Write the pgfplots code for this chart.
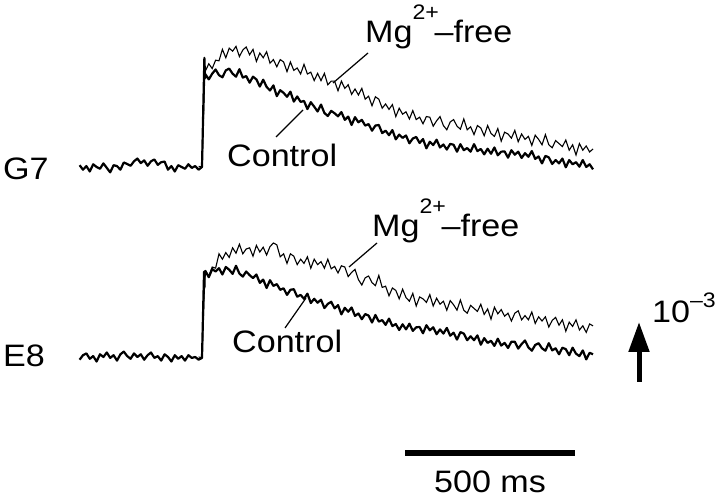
\documentclass[border=0pt]{standalone}
\usepackage{pgfplots}
\usepackage{pgfplotstable}
\pgfplotsset{compat=1.18}
\usetikzlibrary{arrows.meta}
\usepackage{fontspec}
\setmainfont{Liberation Sans}[FakeStretch=1.1]
\newcommand{\lab}{\fontsize{31}{31}\selectfont}
\newcommand{\mglab}{Mg\rlap{\raisebox{23pt}{\fontsize{21}{21}\selectfont 2+}}\hspace{22pt}\textendash free}

\pgfplotstableread{
t v
-360 0.3
-350 -0.45
-340 0.15
-330 -0.75
-320 0.45
-310 0.0
-300 -0.3
-290 0.6
-280 -0.15
-270 -0.9
-260 0.3
-250 0.15
-240 -0.45
-230 0.75
-220 0.5
-210 0.2
-200 0.95
-190 1.4
-180 0.65
-170 1.1
-160 0.2
-150 0.95
-140 1.25
-130 0.35
-120 0.8
-110 0.9
-100 -0.45
-90 0.15
-80 -0.75
-70 0.3
-60 0.0
-50 -0.3
-40 0.45
-30 -0.15
-20 0.15
-10 -0.45
0 0.0
7 18.2
9 14.8
10 15.45
20 14.6
30 15.55
40 16.25
50 15.3
60 14.95
70 16.1
80 16.4
90 15.55
100 15.05
110 16.3
120 14.9
130 15.15
140 14.05
150 15.05
160 14.6
170 13.4
180 14.55
190 13.35
200 12.75
210 13.6
220 11.8
230 12.8
240 12.35
250 11.7
260 12.55
270 10.9
280 11.75
290 10.85
300 11.0
310 9.65
320 10.8
330 10.05
340 9.25
350 10.4
360 9.0
370 8.5
380 9.35
390 8.95
400 8.45
410 9.15
420 7.85
430 8.4
440 7.0
450 8.3
460 7.45
470 7.85
480 6.9
490 7.15
500 6.05
510 6.9
520 7.0
530 5.65
540 6.05
550 5.3
560 6.15
570 4.6
580 5.4
590 4.85
600 5.25
610 3.95
620 4.75
630 5.0
640 4.0
650 4.65
660 3.1
670 4.2
680 3.65
690 4.55
700 3.25
710 3.75
720 2.9
730 3.85
740 3.7
750 2.55
760 3.8
770 2.8
780 3.15
790 2.55
800 3.8
810 2.65
820 3.0
830 2.1
840 3.05
850 2.2
860 3.25
870 1.95
880 2.55
890 2.6
900 1.55
910 2.8
920 2.05
930 2.55
940 1.5
950 2.3
960 1.7
970 2.65
980 1.35
990 1.75
1000 0.6
1010 1.85
1020 1.6
1030 0.5
1040 1.15
1050 0.6
1060 1.4
1070 -0.05
1080 1.15
1090 0.45
1100 0.8
1110 0.05
1120 1.15
1130 0.0
1140 0.45
1150 -0.4
}\gsevenctrl

\pgfplotstableread{
t v
-10 0.1
0 0.0
8 15.0
10 16.0
20 17.2
30 16.4
40 17.8
50 17.7
60 19.6
70 18.2
80 19.8
90 19.3
100 20.1
110 18.4
120 19.5
130 20.0
140 18.7
150 19.6
160 17.6
170 19.0
180 18.2
190 19.2
200 17.3
210 17.9
220 16.7
230 17.9
240 17.5
250 15.9
260 17.5
270 16.1
280 16.5
290 15.5
300 17.1
310 15.5
320 15.8
330 14.4
340 15.6
350 14.4
360 15.6
370 13.7
380 14.3
390 14.3
400 12.7
410 14.3
420 13.1
430 13.7
440 12.1
450 13.0
460 12.0
470 13.1
480 11.3
490 11.8
500 10.2
510 11.7
520 11.3
530 9.8
540 10.5
550 9.6
560 10.4
570 8.4
580 9.8
590 8.8
600 9.2
610 8.0
620 9.4
630 7.9
640 8.3
650 7.2
660 8.4
670 8.3
680 6.8
690 7.7
700 8.4
710 6.9
720 6.2
730 7.5
740 7.9
750 6.8
760 6.3
770 8.0
780 6.2
790 6.7
800 5.4
810 6.9
820 6.5
830 5.2
840 6.9
850 5.6
860 5.1
870 6.4
880 4.3
890 5.8
900 5.5
910 4.8
920 6.1
930 4.2
940 5.5
950 4.6
960 5.1
970 3.6
980 5.3
990 4.6
1000 3.7
1010 5.4
1020 3.7
1030 3.2
1040 4.4
1050 3.9
1060 3.4
1070 4.5
1080 2.8
1090 3.7
1100 2.0
1110 3.9
1120 2.8
1130 3.5
1140 2.5
1150 3.0
}\gsevenmg

\pgfplotstableread{
t v
-360 -0.45
-350 0.3
-340 0.6
-330 -0.3
-320 0.15
-310 -0.75
-300 0.45
-290 0.0
-280 0.75
-270 -0.15
-260 0.3
-250 -0.6
-240 0.45
-230 0.9
-220 0.15
-210 -0.3
-200 0.6
-190 0.0
-180 0.45
-170 -0.45
-160 0.3
-150 0.75
-140 -0.15
-130 0.15
-120 -0.6
-110 0.45
-100 0.0
-90 -0.75
-80 0.3
-70 -0.3
-60 0.15
-50 -0.6
-40 0.3
-30 -0.15
-20 0.0
-10 -0.45
0 -0.15
6 14.2
7 11.5
8 14.0
10 14.35
20 13.3
30 14.65
40 14.25
50 14.8
60 13.75
70 15.0
80 14.55
90 13.85
100 15.2
110 13.9
120 13.4
130 14.25
140 13.65
150 13.15
160 13.75
170 12.35
180 12.9
190 11.5
200 12.8
210 11.85
220 12.15
230 11.2
240 11.45
250 10.35
260 11.2
270 11.3
280 10.05
290 10.35
300 9.7
310 10.55
320 9.0
330 9.7
340 9.05
350 9.55
360 8.15
370 8.85
380 9.2
390 8.1
400 8.65
410 7.1
420 8.2
430 7.55
440 8.25
450 6.85
460 7.25
470 6.3
480 7.15
490 6.9
500 5.75
510 7.0
520 5.9
530 6.15
540 5.35
550 6.4
560 5.15
570 5.5
580 4.5
590 5.45
600 4.6
610 5.55
620 4.35
630 4.95
640 5.0
650 3.95
660 5.3
670 4.45
680 4.95
690 3.8
700 4.6
710 3.9
720 4.85
730 3.55
740 4.05
750 2.9
760 4.15
770 3.9
780 2.8
790 3.45
800 2.8
810 3.6
820 2.05
830 3.15
840 2.35
850 2.7
860 1.85
870 3.05
880 1.9
890 2.35
900 1.5
910 2.55
920 2.55
930 1.4
940 2.15
950 2.75
960 1.6
970 1.05
980 2.0
990 2.3
1000 1.45
1010 1.05
1020 2.3
1030 1.1
1040 1.45
1050 0.45
1060 1.55
1070 1.3
1080 0.3
1090 1.55
1100 0.55
1110 0.15
1120 1.1
1130 -0.4
1140 0.7
1150 0.45
}\eeightctrl

\pgfplotstableread{
t v
-10 0.0
0 -0.1
8 13.0
10 14.0
20 13.5
30 15.0
40 14.8
50 17.2
60 16.3
70 17.4
80 16.6
90 18.2
100 17.3
110 18.8
120 17.2
130 18.0
140 18.2
150 16.8
160 18.6
170 17.5
180 18.3
190 17.0
200 18.4
210 19.0
220 18.7
230 16.7
240 17.2
250 15.6
260 17.2
270 16.8
280 15.4
290 16.3
300 15.6
310 16.7
320 14.8
330 16.3
340 15.4
350 15.9
360 14.8
370 16.3
380 14.7
390 15.1
400 14.0
410 15.2
420 15.0
430 13.4
440 14.1
450 14.6
460 12.9
470 12.0
480 13.2
490 13.5
500 12.4
510 11.9
520 13.6
530 11.6
540 11.8
550 10.2
560 11.5
570 11.1
580 9.7
590 11.3
600 9.9
610 9.3
620 10.6
630 8.5
640 10.0
650 9.7
660 9.1
670 10.4
680 8.5
690 9.8
700 8.8
710 9.3
720 7.8
730 9.4
740 8.7
750 7.8
760 9.5
770 7.8
780 7.3
790 8.6
800 8.1
810 7.6
820 8.8
830 7.1
840 8.0
850 6.3
860 8.3
870 7.2
880 7.9
890 6.8
900 7.3
910 6.0
920 7.3
930 7.7
940 6.2
950 6.9
960 6.2
970 7.5
980 5.6
990 6.7
1000 6.0
1010 6.7
1020 5.0
1030 6.1
1040 6.6
1050 5.3
1060 6.2
1070 4.3
1080 5.8
1090 5.1
1100 6.2
1110 4.5
1120 5.2
1130 4.1
1140 5.5
1150 5.2
}\eeightmg

\begin{document}
\begin{tikzpicture}
\useasboundingbox (0,0) rectangle (720pt,498pt);
\begin{axis}[
  at={(0pt,0pt)}, anchor=south west,
  width=720pt, height=498pt, scale only axis,
  xmin=-594.1, xmax=1523.5, ymin=-55.17, ymax=27.83,
  hide axis, clip=false]
% G7
\addplot[black, line width=2.2pt, line join=round] table[x=t,y=v] {\gsevenctrl};
\addplot[black, line width=1.1pt, line join=miter] table[x=t,y=v] {\gsevenmg};
% E8 (drawn 190 px lower)
\addplot[black, line width=2.2pt, line join=round] table[x=t,y expr=\thisrow{v}-31.67] {\eeightctrl};
\addplot[black, line width=1.1pt, line join=miter] table[x=t,y expr=\thisrow{v}-31.67] {\eeightmg};
\end{axis}
\begin{scope}[x=1pt,y=-1pt,shift={(0pt,498pt)}]
  % trace labels
  \node[anchor=base west, inner sep=0] at (3,180) {\lab G7};
  \node[anchor=base west, inner sep=0] at (3,367) {\lab E8};
  \node[anchor=base west, inner sep=0] at (365,43) {\lab\mglab};
  \node[anchor=base west, inner sep=0] at (227,167) {\lab Control};
  \node[anchor=base west, inner sep=0] at (372,237) {\lab\mglab};
  \node[anchor=base west, inner sep=0] at (232,353) {\lab Control};
  % leader lines
  \draw[line width=1.2pt] (368,53) -- (333,83);
  \draw[line width=1.2pt] (276,137) -- (303,110);
  \draw[line width=1.2pt] (377,243) -- (349,267);
  \draw[line width=1.2pt] (285,328) -- (306,298);
  % time scale bar
  \draw[line width=5pt] (405,453) -- (575,453);
  \node[anchor=base, inner sep=0] at (490,492) {\lab 500 ms};
  % amplitude arrow
  \draw[line width=5pt, -{Triangle[length=30pt,width=20pt]}] (639,382) -- (639,322);
  \node[anchor=base west, inner sep=0] at (652,323) {\lab 10\raisebox{15pt}{\fontsize{21}{21}\selectfont\textendash 3}};
\end{scope}
\end{tikzpicture}
\end{document}
